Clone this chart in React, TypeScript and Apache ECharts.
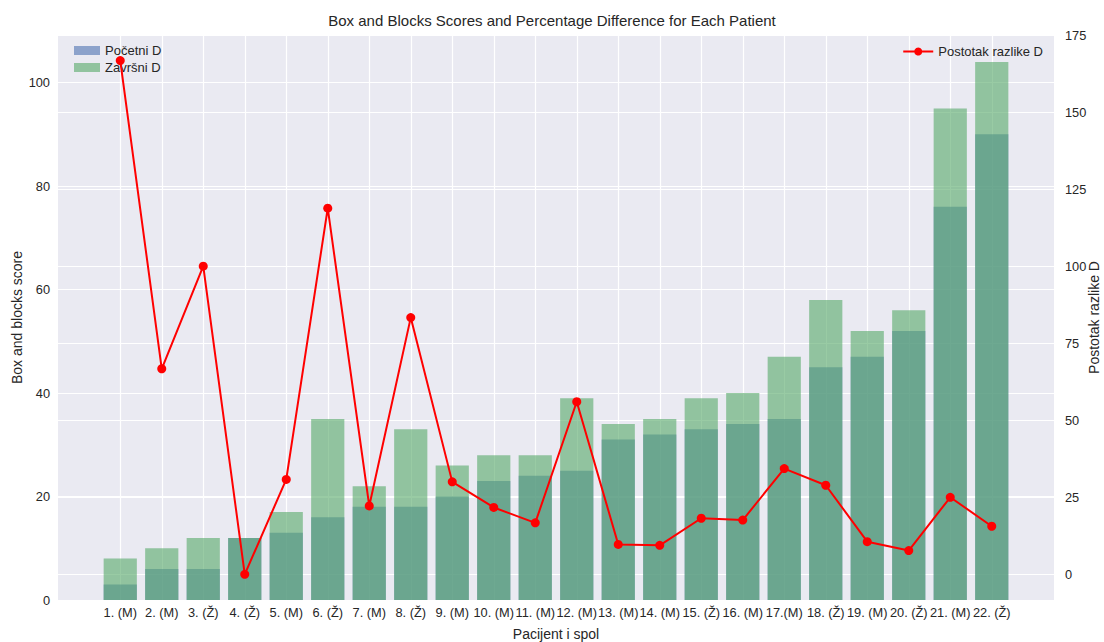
import React, { useEffect, useRef } from "react";
import * as echarts from "echarts";

const patients = [
  "1. (M)", "2. (M)", "3. (Ž)", "4. (Ž)", "5. (M)", "6. (Ž)", "7. (M)", "8. (Ž)",
  "9. (M)", "10. (M)", "11. (M)", "12. (M)", "13. (M)", "14. (M)", "15. (Ž)", "16. (M)",
  "17.(M)", "18. (Ž)", "19. (M)", "20. (Ž)", "21. (M)", "22. (Ž)",
];
const pocetni = [3, 6, 6, 12, 13, 16, 18, 18, 20, 23, 24, 25, 31, 32, 33, 34, 35, 45, 47, 52, 76, 90];
const zavrsni = [8, 10, 12, 12, 17, 35, 22, 33, 26, 28, 28, 39, 34, 35, 39, 40, 47, 58, 52, 56, 95, 104];
const postotak = [166.7, 66.7, 100, 0, 30.8, 118.8, 22.2, 83.3, 30, 21.7, 16.7, 56, 9.7, 9.4, 18.2, 17.6, 34.3, 28.9, 10.6, 7.7, 25, 15.6];
const leftTicks = [0, 20, 40, 60, 80, 100];
const rightTicks = [0, 25, 50, 75, 100, 125, 150, 175];

const FONT = "'Liberation Sans', Arial, sans-serif";
const TXT = "#262626";

export default function App() {
  const ref = useRef<HTMLDivElement>(null);
  useEffect(() => {
    document.body.style.margin = "0";
    if (!ref.current) return;
    const chart = echarts.init(ref.current, undefined, { renderer: "svg" });
    const cats = ["", ...patients, ""];
    const pad = (arr: number[]) => ["-", ...arr, "-"];
    chart.setOption({
      animation: false,
      backgroundColor: "#ffffff",
      textStyle: { fontFamily: FONT },
      title: {
        text: "Box and Blocks Scores and Percentage Difference for Each Patient",
        left: "center",
        top: 8,
        textStyle: { fontFamily: FONT, fontSize: 15, fontWeight: "normal", color: TXT },
      },
      legend: [
        {
          data: ["Početni D", "Završni D"],
          orient: "vertical",
          left: 69,
          top: 39,
          itemWidth: 26,
          itemHeight: 9,
          itemGap: 4,
          icon: "rect",
          textStyle: { fontFamily: FONT, fontSize: 13, color: TXT },
        },
        {
          data: ["Postotak razlike D"],
          right: 56,
          top: 40,
          itemWidth: 30,
          itemHeight: 10,
          textStyle: { fontFamily: FONT, fontSize: 13, color: TXT },
        },
      ],
      grid: {
        left: 58,
        right: 50,
        top: 35,
        bottom: 42,
        show: true,
        backgroundColor: "#EAEAF2",
        borderWidth: 0,
        containLabel: false,
        outerBoundsMode: "none",
      },
      xAxis: {
        type: "category",
        data: cats,
        name: "Pacijent i spol",
        nameLocation: "middle",
        nameGap: 27,
        nameMoveOverlap: false,
        nameTextStyle: { fontFamily: FONT, fontSize: 14, color: TXT },
        axisLine: { show: false },
        axisTick: { show: false, alignWithLabel: true },
        axisLabel: { interval: 0, fontFamily: FONT, fontSize: 12.8, color: TXT, margin: 6 },
        splitLine: {
          show: true,
          alignWithLabel: true,
          interval: (i: number) => i > 0 && i < cats.length - 1,
          lineStyle: { color: "#ffffff", width: 1.2 },
        },
      },
      yAxis: [
        {
          type: "value",
          min: 0,
          max: 109.2,
          name: "Box and blocks score",
          nameLocation: "middle",
          nameGap: 34,
          nameMoveOverlap: false,
          nameTextStyle: { fontFamily: FONT, fontSize: 14, color: TXT },
          axisLine: { show: false },
          axisTick: { show: false },
          axisLabel: { fontFamily: FONT, fontSize: 12.8, color: TXT, customValues: leftTicks, margin: 8 },
          splitLine: { show: true, lineStyle: { color: "#ffffff", width: 1.2 } },
          interval: 20,
        },
        {
          type: "value",
          min: -8.33,
          max: 175,
          name: "Postotak razlike D",
          nameLocation: "middle",
          nameGap: 33,
          nameMoveOverlap: false,
          nameTextStyle: { fontFamily: FONT, fontSize: 14, color: TXT },
          axisLine: { show: false },
          axisTick: { show: false, customValues: rightTicks },
          axisLabel: { fontFamily: FONT, fontSize: 12.8, color: TXT, customValues: rightTicks, margin: 11 },
          splitLine: { show: true, lineStyle: { color: "#ffffff", width: 1.2 } },
        },
      ],
      series: [
        {
          name: "Početni D",
          type: "bar",
          data: pad(pocetni),
          barWidth: "80%",
          barGap: "-100%",
          itemStyle: { color: "rgba(76,114,176,0.6)" },
          z: 2,
        },
        {
          name: "Završni D",
          type: "bar",
          data: pad(zavrsni),
          barWidth: "80%",
          barGap: "-100%",
          itemStyle: { color: "rgba(85,168,104,0.6)" },
          z: 3,
        },
        {
          name: "Postotak razlike D",
          type: "line",
          yAxisIndex: 1,
          data: pad(postotak),
          symbol: "circle",
          symbolSize: 9,
          itemStyle: { color: "#ff0000" },
          lineStyle: { color: "#ff0000", width: 2 },
          z: 5,
        },
      ],
    });
    return () => chart.dispose();
  }, []);
  return <div ref={ref} style={{ width: 1104, height: 642 }} />;
}
